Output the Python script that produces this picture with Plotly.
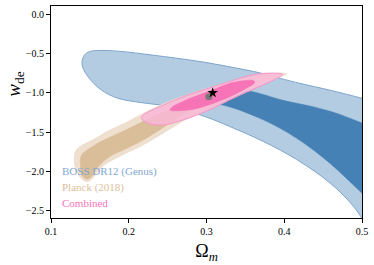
import plotly.graph_objects as go

# ---- data ----
boss_outer_om = [0.140, 0.143, 0.150, 0.160, 0.186, 0.23, 0.29, 0.33, 0.37, 0.40, 0.42, 0.46, 0.50, 0.53,
                 0.53, 0.505, 0.498, 0.485, 0.459, 0.416, 0.373, 0.33, 0.30, 0.27, 0.25, 0.216, 0.186, 0.164, 0.148, 0.141]
boss_outer_w = [-0.60, -0.52, -0.475, -0.462, -0.47, -0.52, -0.60, -0.67, -0.75, -0.83, -0.88, -0.97, -1.07, -1.15,
                -2.95, -2.70, -2.57, -2.40, -2.15, -1.85, -1.62, -1.43, -1.31, -1.22, -1.17, -1.125, -1.07, -0.96, -0.80, -0.68]

boss_inner_om = [0.27, 0.30, 0.33, 0.356, 0.40, 0.438, 0.47, 0.50, 0.53,
                 0.53, 0.498, 0.459, 0.416, 0.373, 0.33, 0.30, 0.275]
boss_inner_w = [-1.05, -0.99, -0.97, -0.98, -1.10, -1.18, -1.27, -1.385, -1.48,
                -2.55, -2.26, -1.90, -1.58, -1.345, -1.18, -1.12, -1.09]

planck_outer_om = [0.132, 0.140, 0.154, 0.175, 0.197, 0.223, 0.25, 0.28, 0.31, 0.34, 0.37, 0.395, 0.403,
                   0.39, 0.36, 0.33, 0.30, 0.275, 0.253, 0.219, 0.19, 0.167, 0.155, 0.148, 0.140, 0.133, 0.130]
planck_outer_w = [-1.74, -1.67, -1.60, -1.48, -1.38, -1.24, -1.12, -1.01, -0.92, -0.84, -0.78, -0.75, -0.76,
                  -0.81, -0.93, -1.07, -1.21, -1.33, -1.46, -1.66, -1.80, -1.93, -2.07, -2.13, -2.10, -2.00, -1.86]

planck_inner_om = [0.139, 0.154, 0.175, 0.197, 0.232, 0.26, 0.29, 0.31,
                   0.30, 0.27, 0.240, 0.219, 0.195, 0.176, 0.160, 0.152, 0.146, 0.140, 0.138]
planck_inner_w = [-1.80, -1.68, -1.57, -1.47, -1.30, -1.18, -1.07, -1.01,
                  -1.12, -1.28, -1.47, -1.60, -1.72, -1.81, -1.95, -2.07, -2.10, -2.05, -1.92]

comb_outer_om = [0.216, 0.225, 0.245, 0.265, 0.2875, 0.31, 0.33, 0.352, 0.373, 0.39, 0.398,
                 0.385, 0.36, 0.33, 0.31, 0.2875, 0.265, 0.245, 0.228, 0.218]
comb_outer_w = [-1.325, -1.39, -1.41, -1.36, -1.285, -1.19, -1.09, -0.99, -0.90, -0.82, -0.765,
                -0.75, -0.77, -0.855, -0.92, -0.99, -1.07, -1.155, -1.23, -1.29]

comb_inner_om = [0.253, 0.27, 0.2875, 0.31, 0.33, 0.35, 0.362,
                 0.36, 0.345, 0.33, 0.31, 0.29, 0.27, 0.256]
comb_inner_w = [-1.22, -1.225, -1.20, -1.13, -1.05, -0.95, -0.87,
                -0.845, -0.85, -0.88, -0.955, -1.03, -1.11, -1.18]

best_fit_om = [0.303]
best_fit_w = [-1.05]
fiducial_om = [0.308]
fiducial_w = [-1.0]

legend_labels = ["BOSS DR12 (Genus)", "Planck (2018)", "Combined"]
legend_y = [-2.0, -2.21, -2.40]
legend_colors = ["#7FA8D2", "#DDBE98", "#F775BA"]

x_ticks = [0.1, 0.2, 0.3, 0.4, 0.5]
y_ticks = [0.0, -0.5, -1.0, -1.5, -2.0, -2.5]

FONT = "Liberation Serif"

fig = go.Figure()


def contour(xs, ys, fill, edge, width=1.0):
    fig.add_trace(go.Scatter(
        x=xs + xs[:1], y=ys + ys[:1], mode="lines", fill="toself",
        fillcolor=fill, line=dict(color=edge, width=width, shape="spline", smoothing=1.0),
        hoverinfo="skip", showlegend=False))


contour(boss_outer_om, boss_outer_w, "rgb(180,204,225)", "rgb(125,165,205)")
contour(boss_inner_om, boss_inner_w, "rgb(69,129,181)", "rgb(69,129,181)", 0.5)
contour(planck_outer_om, planck_outer_w, "rgba(236,220,202,0.9)", "rgb(240,222,205)")
contour(planck_inner_om, planck_inner_w, "rgba(216,187,150,0.95)", "rgb(216,187,150)", 0.5)
contour(comb_outer_om, comb_outer_w, "rgba(249,185,214,0.85)", "rgb(246,150,200)")
contour(comb_inner_om, comb_inner_w, "rgba(246,108,180,0.9)", "rgb(246,108,180)", 0.5)

fig.add_trace(go.Scatter(x=best_fit_om, y=best_fit_w, mode="markers",
                         marker=dict(color="rgb(120,120,120)", size=7),
                         hoverinfo="skip", showlegend=False))
fig.add_trace(go.Scatter(x=fiducial_om, y=fiducial_w, mode="markers",
                         marker=dict(color="black", size=8, symbol="star"),
                         hoverinfo="skip", showlegend=False))

for lab, yy, col in zip(legend_labels, legend_y, legend_colors):
    fig.add_annotation(x=0.112, y=yy, xref="x", yref="y", text=lab, showarrow=False,
                       xanchor="left", yanchor="middle",
                       font=dict(family=FONT, size=11, color=col))

fig.add_annotation(x=-0.115, y=0.63, xref="paper", yref="paper",
                   text="<i>w</i><sub>de</sub>", showarrow=False, textangle=-90,
                   xanchor="center", yanchor="middle",
                   font=dict(family=FONT, size=19, color="black"))

axis_common = dict(showgrid=False, zeroline=False, showline=True, linecolor="black",
                   linewidth=1, mirror=True, ticks="outside", ticklen=4, tickwidth=1,
                   tickcolor="black", tickfont=dict(family=FONT, size=10, color="black"),
                   tickformat=".1f", automargin=False)

fig.update_layout(
    width=374, height=265,
    margin=dict(l=51, r=12, t=6, b=47),
    paper_bgcolor="white", plot_bgcolor="white",
    hovermode=False,
    xaxis=dict(range=[0.1, 0.5], tickvals=x_ticks,
               title=dict(text="Ω<sub><i>m</i></sub>", standoff=8,
                          font=dict(family=FONT, size=18, color="black")),
               **axis_common),
    yaxis=dict(range=[-2.595, 0.105], tickvals=y_ticks, **axis_common),
)

fig.write_html("out.html", config={"displayModeBar": False},
               post_script="document.body.style.margin='0';document.body.style.overflow='hidden';")
